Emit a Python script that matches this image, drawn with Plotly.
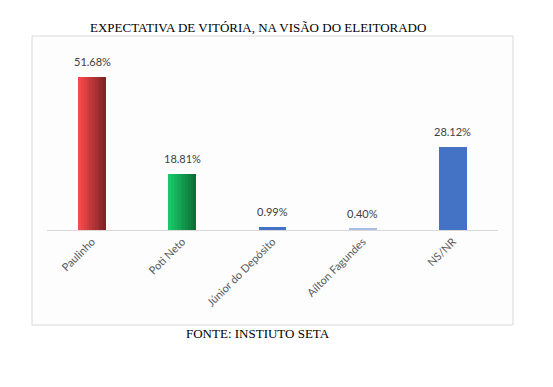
import plotly.graph_objects as go

categories = ["Paulinho", "Poti Neto", "Júnior do Depósito", "Aílton Fagundes", "NS/NR"]
values = [51.68, 18.81, 0.99, 0.40, 28.12]
labels = ["51.68%", "18.81%", "0.99%", "0.40%", "28.12%"]

# gradient colours (left -> right) per bar
grad = {
    0: ((247, 72, 74), (128, 36, 38)),
    1: ((24, 200, 104), (12, 112, 54)),
}
solid = {2: "#4472c4", 3: "#a9bde6", 4: "#4472c4"}

OFF = 8  # default body margin of the page
W, H = 553 - 2 * OFF, 387 - 2 * OFF
# target positions in page pixels
PL, PR, PT, PB = 47, 498, 52, 230
L, T = PL - OFF, PT - OFF
R = W - (PR - OFF)
B = H - (PB - OFF)
pw, ph = PR - PL, PB - PT
def px(x): return (x - PL) / pw
def py(y): return (PB - y) / ph

BW = 0.31
N = 10
fig = go.Figure()
for idx, (c0, c1) in grad.items():
    for i in range(N):
        t = i / (N - 1)
        col = "rgb(%d,%d,%d)" % tuple(int(a + (b - a) * t) for a, b in zip(c0, c1))
        fig.add_trace(go.Bar(
            x=[categories[idx]], y=[values[idx]],
            width=BW / N, offset=-BW / 2 + i * BW / N,
            marker=dict(color=col, line=dict(width=0)),
            hoverinfo="skip", showlegend=False))
for idx, col in solid.items():
    fig.add_trace(go.Bar(
        x=[categories[idx]], y=[values[idx]], width=BW, offset=-BW / 2,
        marker=dict(color=col, line=dict(width=0)), showlegend=False))

annots = [
    dict(x=c, y=v, text=lab, xref="x", yref="y", showarrow=False,
         yanchor="bottom", yshift=7,
         font=dict(family="Lato, Open Sans, sans-serif", size=11, color="#404040"))
    for c, v, lab in zip(categories, values, labels)
]
annots += [
    dict(text="EXPECTATIVA DE VITÓRIA, NA VISÃO DO ELEITORADO",
         xref="paper", yref="paper", x=px(258), y=py(28),
         xanchor="center", yanchor="middle", showarrow=False,
         font=dict(family="Liberation Serif, Times New Roman, serif", size=13, color="#000000")),
    dict(text="FONTE: INSTIUTO SETA",
         xref="paper", yref="paper", x=px(258), y=py(333),
         xanchor="center", yanchor="middle", showarrow=False,
         font=dict(family="Liberation Serif, Times New Roman, serif", size=13, color="#000000")),
]

fig.update_layout(
    width=W, height=H, margin=dict(l=L, r=R, t=T, b=B),
    paper_bgcolor="white", plot_bgcolor="rgba(0,0,0,0)",
    barmode="overlay", bargap=0,
    xaxis=dict(categoryorder="array", categoryarray=categories,
               showline=True, linecolor="#d9d9d9", linewidth=1,
               showgrid=False, ticks="", tickangle=-45,
               tickfont=dict(family="Lato, Open Sans, sans-serif", size=11, color="#595959"),
               range=[-0.5, 4.5]),
    yaxis=dict(range=[0, 60], visible=False, showgrid=False, zeroline=False),
    shapes=[dict(type="rect", xref="paper", yref="paper",
                 x0=px(32), x1=px(513), y0=py(325), y1=py(36),
                 line=dict(color="#d9d9d9", width=1), fillcolor="#fdfdfd",
                 layer="below")],
    annotations=annots,
)
fig.write_html("out.html")
